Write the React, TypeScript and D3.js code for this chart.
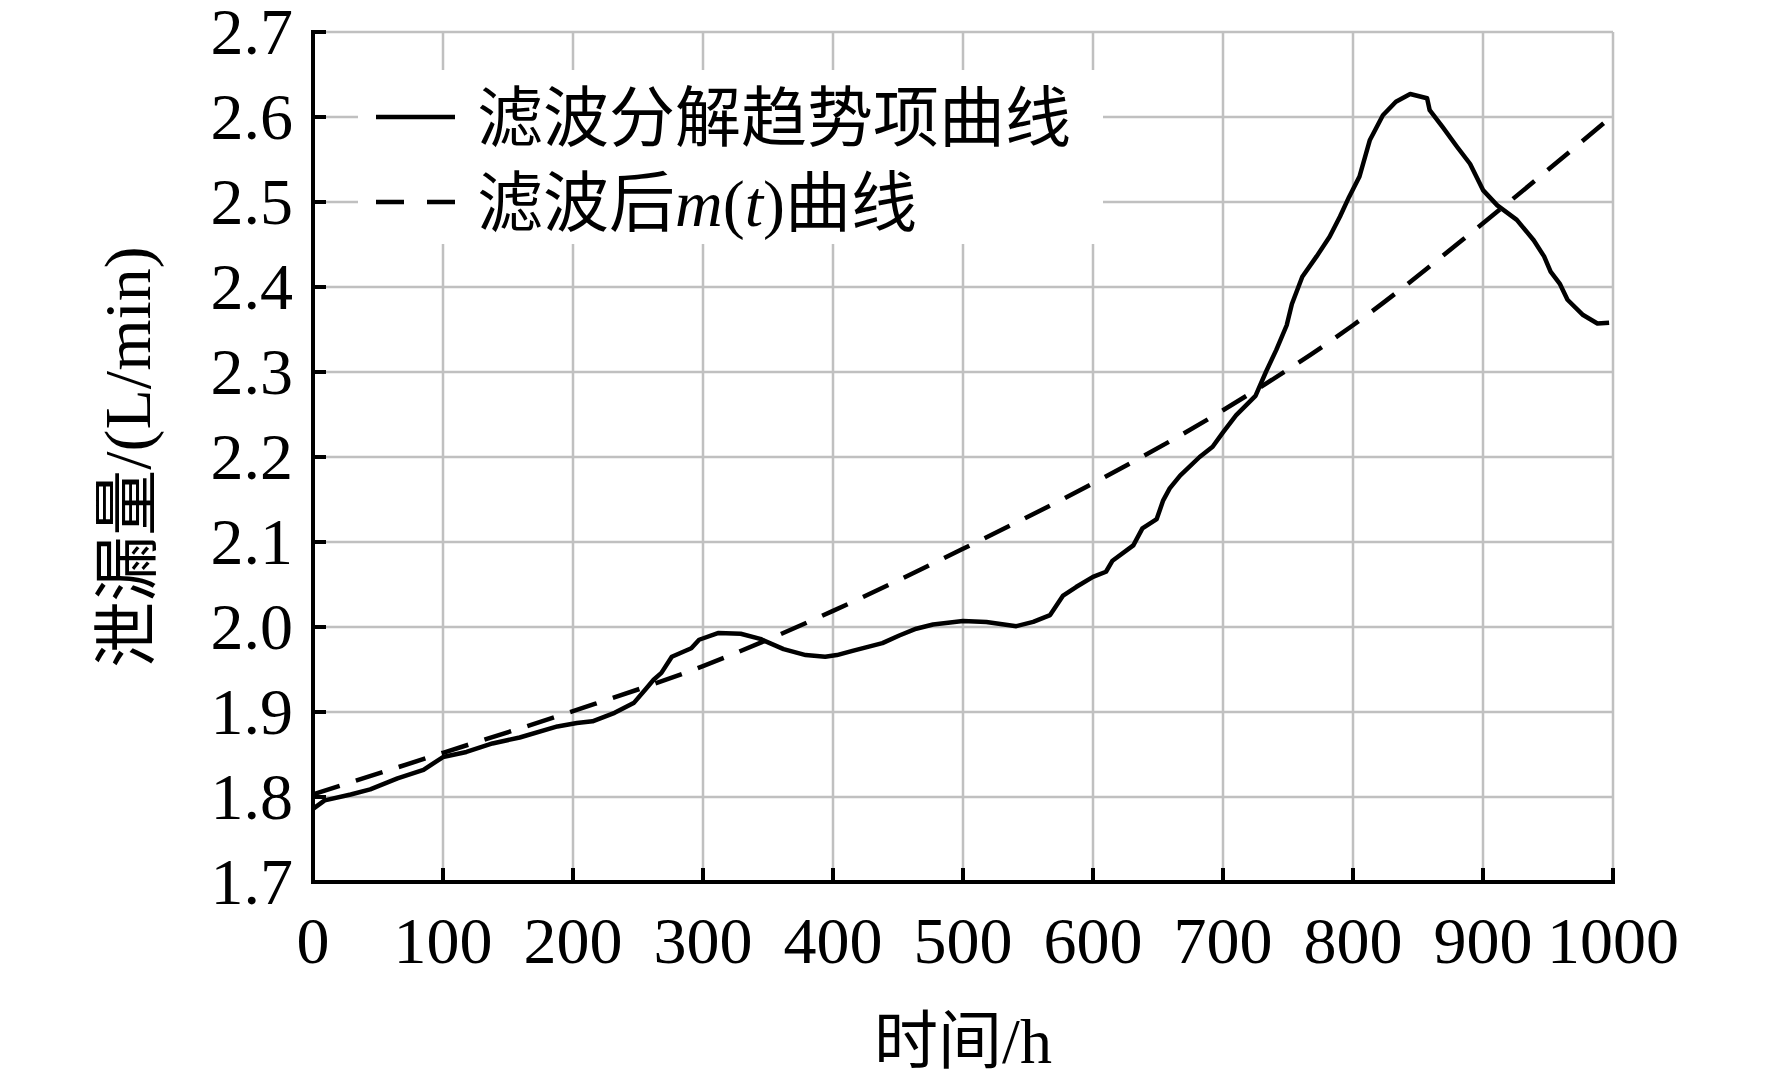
import * as d3 from "d3";

// solid trend curve
const trendX = [0, 9, 29, 44, 65, 85, 100, 118, 138, 159, 188, 203, 215, 232, 247, 256, 262, 268, 276, 291, 297, 312, 329, 344, 362, 379, 394, 403, 415, 438, 451, 464, 477, 500, 518, 541, 554, 567, 577, 587, 600, 610, 615, 631, 638, 649, 654, 659, 667, 682, 692, 700, 710, 725, 733, 741, 749, 753, 761, 772, 782, 790, 797, 805, 813, 823, 833, 844, 857, 859, 869, 880, 890, 900, 911, 926, 939, 947, 952, 959, 965, 977, 988, 997];
const trendY = [1.786, 1.796, 1.803, 1.809, 1.822, 1.832, 1.847, 1.853, 1.863, 1.87, 1.883, 1.887, 1.889, 1.899, 1.911, 1.927, 1.938, 1.946, 1.965, 1.975, 1.985, 1.993, 1.992, 1.986, 1.974, 1.967, 1.965, 1.967, 1.972, 1.981, 1.99, 1.998, 2.003, 2.007, 2.006, 2.001, 2.006, 2.014, 2.037, 2.047, 2.059, 2.065, 2.078, 2.096, 2.116, 2.127, 2.149, 2.163, 2.178, 2.2, 2.212, 2.229, 2.249, 2.272, 2.3, 2.326, 2.355, 2.38, 2.412, 2.436, 2.459, 2.483, 2.506, 2.53, 2.573, 2.602, 2.618, 2.627, 2.622, 2.608, 2.588, 2.565, 2.545, 2.514, 2.496, 2.479, 2.455, 2.436, 2.418, 2.404, 2.385, 2.367, 2.357, 2.358];

// dashed m(t) curve
const mX = [0, 100, 200, 300, 400, 500, 600, 700, 800, 900, 1000];
const mY = [1.803, 1.852, 1.901, 1.954, 2.019, 2.092, 2.169, 2.255, 2.355, 2.475, 2.602];

const xTicks = [0, 100, 200, 300, 400, 500, 600, 700, 800, 900, 1000];
const yTicks = [1.7, 1.8, 1.9, 2.0, 2.1, 2.2, 2.3, 2.4, 2.5, 2.6, 2.7];

const font = "'Liberation Serif', 'Times New Roman', 'Noto Sans CJK SC', serif";

export default function App() {
  const W = 1772;
  const H = 1080;
  const left = 313, right = 1613, top = 32, bottom = 882;

  const x = d3.scaleLinear().domain([0, 1000]).range([left, right]);
  const y = d3.scaleLinear().domain([1.7, 2.7]).range([bottom, top]);

  const line = d3
    .line<number>()
    .x((_, i) => x(trendX[i]))
    .y((d) => y(d));
  const mLine = d3
    .line<number>()
    .x((_, i) => x(mX[i]))
    .y((d) => y(d))
    .curve(d3.curveMonotoneX);

  const grid = "#c0c0c0";

  return (
    <svg width={W} height={H} style={{ position: "absolute", left: 0, top: 0, background: "#fff" }}>
      {/* gridlines */}
      {xTicks.slice(1).map((t) => (
        <line key={"gx" + t} x1={x(t)} x2={x(t)} y1={top} y2={bottom} stroke={grid} strokeWidth={2.5} />
      ))}
      {yTicks.slice(1).map((t) => (
        <line key={"gy" + t} x1={left} x2={right} y1={y(t)} y2={y(t)} stroke={grid} strokeWidth={2.5} />
      ))}

      {/* legend box covers the grid */}
      <rect x={358} y={70} width={745} height={174} fill="#fff" />
      <line x1={376} x2={455} y1={y(2.6)} y2={y(2.6)} stroke="#000" strokeWidth={4.5} />
      <line x1={376} x2={455} y1={y(2.5)} y2={y(2.5)} stroke="#000" strokeWidth={4.5} strokeDasharray="28,23" />
      <text x={477} y={y(2.6) + 24} fontSize={66} fontFamily={font}>滤波分解趋势项曲线</text>
      <text x={477} y={y(2.5) + 24} fontSize={66} fontFamily={font}>
        滤波后<tspan fontStyle="italic">m</tspan>(<tspan fontStyle="italic">t</tspan>)曲线
      </text>

      {/* curves */}
      <path d={mLine(mY) ?? ""} fill="none" stroke="#000" strokeWidth={4.5} strokeDasharray="28,17" />
      <path d={line(trendY) ?? ""} fill="none" stroke="#000" strokeWidth={4.5} strokeLinejoin="round" />

      {/* axes */}
      <line x1={left} x2={left} y1={top - 2} y2={bottom + 2} stroke="#000" strokeWidth={4} />
      <line x1={left - 2} x2={right + 2} y1={bottom} y2={bottom} stroke="#000" strokeWidth={4} />
      {xTicks.slice(1).map((t) => (
        <line key={"tx" + t} x1={x(t)} x2={x(t)} y1={bottom} y2={bottom - 14} stroke="#000" strokeWidth={4} />
      ))}
      {yTicks.slice(1).map((t) => (
        <line key={"ty" + t} x1={left} x2={left + 13} y1={y(t)} y2={y(t)} stroke="#000" strokeWidth={4} />
      ))}

      {/* tick labels */}
      {xTicks.map((t) => (
        <text key={"lx" + t} x={x(t)} y={963} fontSize={66} fontFamily={font} textAnchor="middle">
          {t}
        </text>
      ))}
      {yTicks.map((t) => (
        <text key={"ly" + t} x={293} y={y(t) + 22} fontSize={66} fontFamily={font} textAnchor="end">
          {t.toFixed(1)}
        </text>
      ))}

      {/* axis titles */}
      <text x={(left + right) / 2} y={1063} fontSize={64} fontFamily={font} textAnchor="middle">
        时间/h
      </text>
      <text
        transform={`translate(150,${(top + bottom) / 2}) rotate(-90)`}
        fontSize={66}
        fontFamily={font}
        textAnchor="middle"
      >
        泄漏量/(L/min)
      </text>
    </svg>
  );
}
